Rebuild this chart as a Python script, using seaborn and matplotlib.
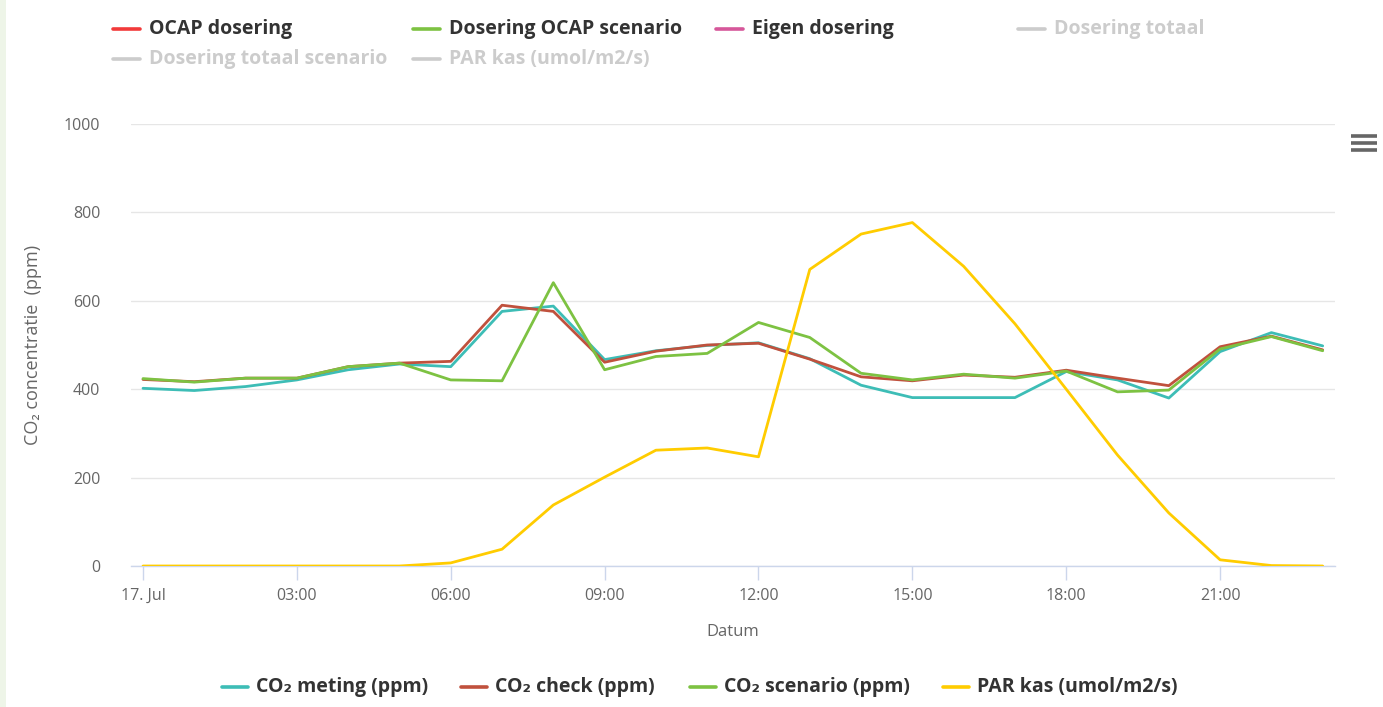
import matplotlib
matplotlib.use("Agg")
import matplotlib.pyplot as plt
from matplotlib import font_manager
from matplotlib.lines import Line2D
from matplotlib.patches import Rectangle
import seaborn as sns
import pandas as pd

# ---------------- data ----------------
hours = list(range(24))
tick_hours = [0, 3, 6, 9, 12, 15, 18, 21]
tick_labels = ["17. Jul", "03:00", "06:00", "09:00", "12:00", "15:00", "18:00", "21:00"]
y_ticks = [0, 200, 400, 600, 800, 1000]

co2_meting = [402, 397, 406, 421, 444, 457, 451, 576, 588, 467, 487, 499, 505,
              469, 409, 381, 381, 381, 440, 421, 380, 485, 528, 498]
co2_check = [422, 417, 425, 425, 451, 459, 463, 590, 576, 461, 486, 500, 504,
             468, 428, 419, 432, 427, 443, 425, 408, 496, 520, 489]
co2_scenario = [424, 416, 425, 425, 451, 459, 421, 419, 641, 444, 474, 481, 551,
                517, 436, 421, 434, 425, 441, 394, 398, 491, 519, 487]
par_kas = [0, 0, 0, 0, 0, 0, 7, 38, 138, 201, 262, 267, 247,
           671, 751, 777, 678, 548, 400, 251, 120, 14, 1, 0]

series_names = ["CO₂ meting (ppm)", "CO₂ check (ppm)", "CO₂ scenario (ppm)", "PAR kas (umol/m2/s)"]
series_colors = ["#3dbdb6", "#c0513d", "#7dc242", "#ffcc00"]

top_legend_names = ["OCAP dosering", "Dosering OCAP scenario", "Eigen dosering", "Dosering totaal",
                    "Dosering totaal scenario", "PAR kas (umol/m2/s)"]
top_legend_colors = ["#f23a3a", "#7dc242", "#d6579a", "#cccccc", "#cccccc", "#cccccc"]
top_legend_active = [True, True, True, False, False, False]

# ---------------- fonts ----------------
installed = {f.name for f in font_manager.fontManager.ttflist}
base = "Liberation Sans Narrow" if "Liberation Sans Narrow" in installed else "Open Sans"

sns.set_style("white")
plt.rcParams["font.family"] = [base, "DejaVu Sans"]

W, H = 1383, 707
fig = plt.figure(figsize=(W / 100, H / 100), dpi=100)
fig.patch.set_facecolor("white")

def fx(px):
    return px / W

def fy(py):
    return 1 - py / H

ax_l, ax_r, ax_t, ax_b = 131, 1335, 124, 566
ax = fig.add_axes([fx(ax_l), fy(ax_b), fx(ax_r - ax_l), (ax_b - ax_t) / H])

df = pd.DataFrame({
    "hour": hours * 4,
    "value": co2_meting + co2_check + co2_scenario + par_kas,
    "series": sum([[n] * len(hours) for n in series_names], []),
})
sns.lineplot(data=df, x="hour", y="value", hue="series", hue_order=series_names,
             palette=dict(zip(series_names, series_colors)), linewidth=2.0,
             legend=False, ax=ax, zorder=3)

ax.set_xlim(-0.234, 23.24)
ax.set_ylim(0, 1000)
ax.set_yticks(y_ticks)
ax.set_yticklabels([str(v) for v in y_ticks])
ax.set_xticks(tick_hours)
ax.set_xticklabels(tick_labels)
ax.grid(axis="y", color="#e6e6e6", linewidth=1.0, zorder=0)
ax.grid(axis="x", visible=False)
for s in ["top", "right", "left"]:
    ax.spines[s].set_visible(False)
ax.spines["bottom"].set_color("#ccd6eb")
ax.spines["bottom"].set_linewidth(1.0)
ax.tick_params(axis="x", length=10, width=1, color="#ccd6eb", labelsize=11.5,
               labelcolor="#666666", pad=6, direction="out", bottom=True)
ax.tick_params(axis="y", length=0, labelsize=11.5, labelcolor="#666666", pad=22)
ax.set_xlabel("Datum", fontsize=12, color="#666666", labelpad=14)
ax.set_ylabel("CO₂ concentratie  (ppm)", fontsize=13, color="#666666", labelpad=16,
              family=["Open Sans", "DejaVu Sans"])

# ---------------- top legend ----------------
top_positions = [(113, 29), (413, 29), (716, 29), (1018, 29), (113, 59), (413, 59)]
for (px, py), name, col, act in zip(top_positions, top_legend_names, top_legend_colors, top_legend_active):
    fig.add_artist(Line2D([fx(px), fx(px + 27)], [fy(py), fy(py)], color=col, linewidth=2.6))
    fig.text(fx(px + 36), fy(py), name, fontsize=14, fontweight="bold",
             color="#333333" if act else "#cccccc", va="center", ha="left")

# ---------------- bottom legend ----------------
bottom_positions = [(222, 687), (461, 687), (690, 687), (943, 687)]
for (px, py), name, col in zip(bottom_positions, series_names, series_colors):
    fig.add_artist(Line2D([fx(px), fx(px + 26)], [fy(py), fy(py)], color=col, linewidth=2.6))
    fig.text(fx(px + 34), fy(py), name, fontsize=14, fontweight="bold",
             color="#333333", va="center", ha="left")

# ---------------- menu icon & left stripe ----------------
for yy in [136, 143, 150]:
    fig.add_artist(Line2D([fx(1351), fx(1377)], [fy(yy), fy(yy)], color="#666666",
                          linewidth=2.6, solid_capstyle="butt"))
fig.add_artist(Rectangle((0, 0), fx(6), 1, transform=fig.transFigure,
                         facecolor="#eef5e8", edgecolor="none"))

fig.savefig("out.png", dpi=100, facecolor="white")
